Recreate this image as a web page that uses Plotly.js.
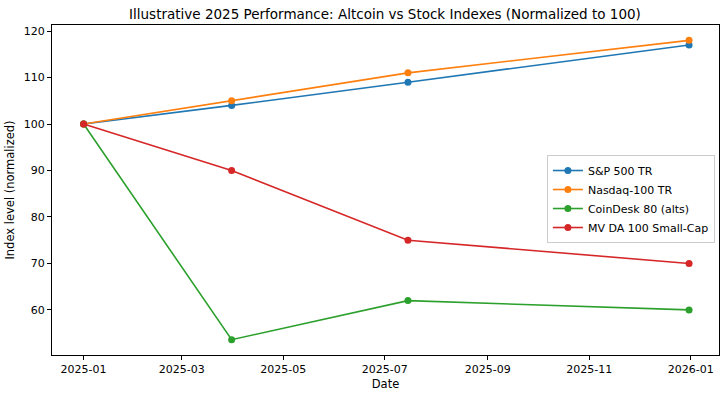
<!DOCTYPE html>
<html><head><meta charset="utf-8">
<script src="https://cdn.plot.ly/plotly-3.0.1.min.js"></script>
<style>html,body{margin:0;padding:0;background:#fff}</style>
</head><body>
<div id="chart" style="width:725px;height:397px"></div>
<script>
const dates = ["2025-01-01", "2025-03-31", "2025-07-15", "2025-12-31"];
const seriesNames = ["S&P 500 TR", "Nasdaq-100 TR", "CoinDesk 80 (alts)", "MV DA 100 Small-Cap"];
const sp500 = [100, 104, 109, 117];
const nasdaq = [100, 105, 111, 118];
const coindesk = [100, 53.6, 62, 60];
const mvda = [100, 90, 75, 70];
const colors = ["#1f77b4", "#ff7f0e", "#2ca02c", "#d62728"];
const xTickVals = ["2025-01-01","2025-03-01","2025-05-01","2025-07-01","2025-09-01","2025-11-01","2026-01-01"];
const xTickText = ["2025-01","2025-03","2025-05","2025-07","2025-09","2025-11","2026-01"];
const yTickVals = [60, 70, 80, 90, 100, 110, 120];

const values = [sp500, nasdaq, coindesk, mvda];
const traces = values.map((v, i) => ({
  x: dates, y: v, name: seriesNames[i], type: "scatter", mode: "lines+markers",
  line: {color: colors[i], width: 1.6},
  marker: {color: colors[i], size: 7}
}));

const F = "DejaVu Sans";
const layout = {
  width: 725, height: 397,
  margin: {l: 52, r: 6, t: 25, b: 42},
  paper_bgcolor: "#fff", plot_bgcolor: "#fff",
  font: {family: F, color: "#000", size: 11},
  title: {text: "Illustrative 2025 Performance: Altcoin vs Stock Indexes (Normalized to 100)",
          font: {family: F, size: 13.5, color: "#000"}, x: 0.531, xanchor: "center", y: 0.975, yanchor: "top"},
  xaxis: {
    type: "date", range: ["2024-12-13", "2026-01-18"],
    tickvals: xTickVals, ticktext: xTickText,
    showgrid: false, zeroline: false, showline: true, linecolor: "#000", linewidth: 1, mirror: true,
    ticks: "outside", ticklen: 4, tickcolor: "#000",
    tickfont: {family: F, size: 11, color: "#000"},
    title: {text: "Date", font: {family: F, size: 11.5, color: "#000"}, standoff: 4}
  },
  yaxis: {
    range: [50.3, 121.3], tickvals: yTickVals,
    showgrid: false, zeroline: false, showline: true, linecolor: "#000", linewidth: 1, mirror: true,
    ticks: "outside", ticklen: 4, tickcolor: "#000",
    tickfont: {family: F, size: 11, color: "#000"},
    title: {text: "Index level (normalized)", font: {family: F, size: 11.5, color: "#000"}, standoff: 6}
  },
  legend: {x: 0.742, y: 0.606, xanchor: "left", yanchor: "top",
    bgcolor: "rgba(255,255,255,0.8)", bordercolor: "#cccccc", borderwidth: 1,
    font: {family: F, size: 11, color: "#000"}, tracegroupgap: 0, itemwidth: 30},
  showlegend: true
};
Plotly.newPlot("chart", traces, layout, {displayModeBar: false, staticPlot: true});
</script>
</body></html>
